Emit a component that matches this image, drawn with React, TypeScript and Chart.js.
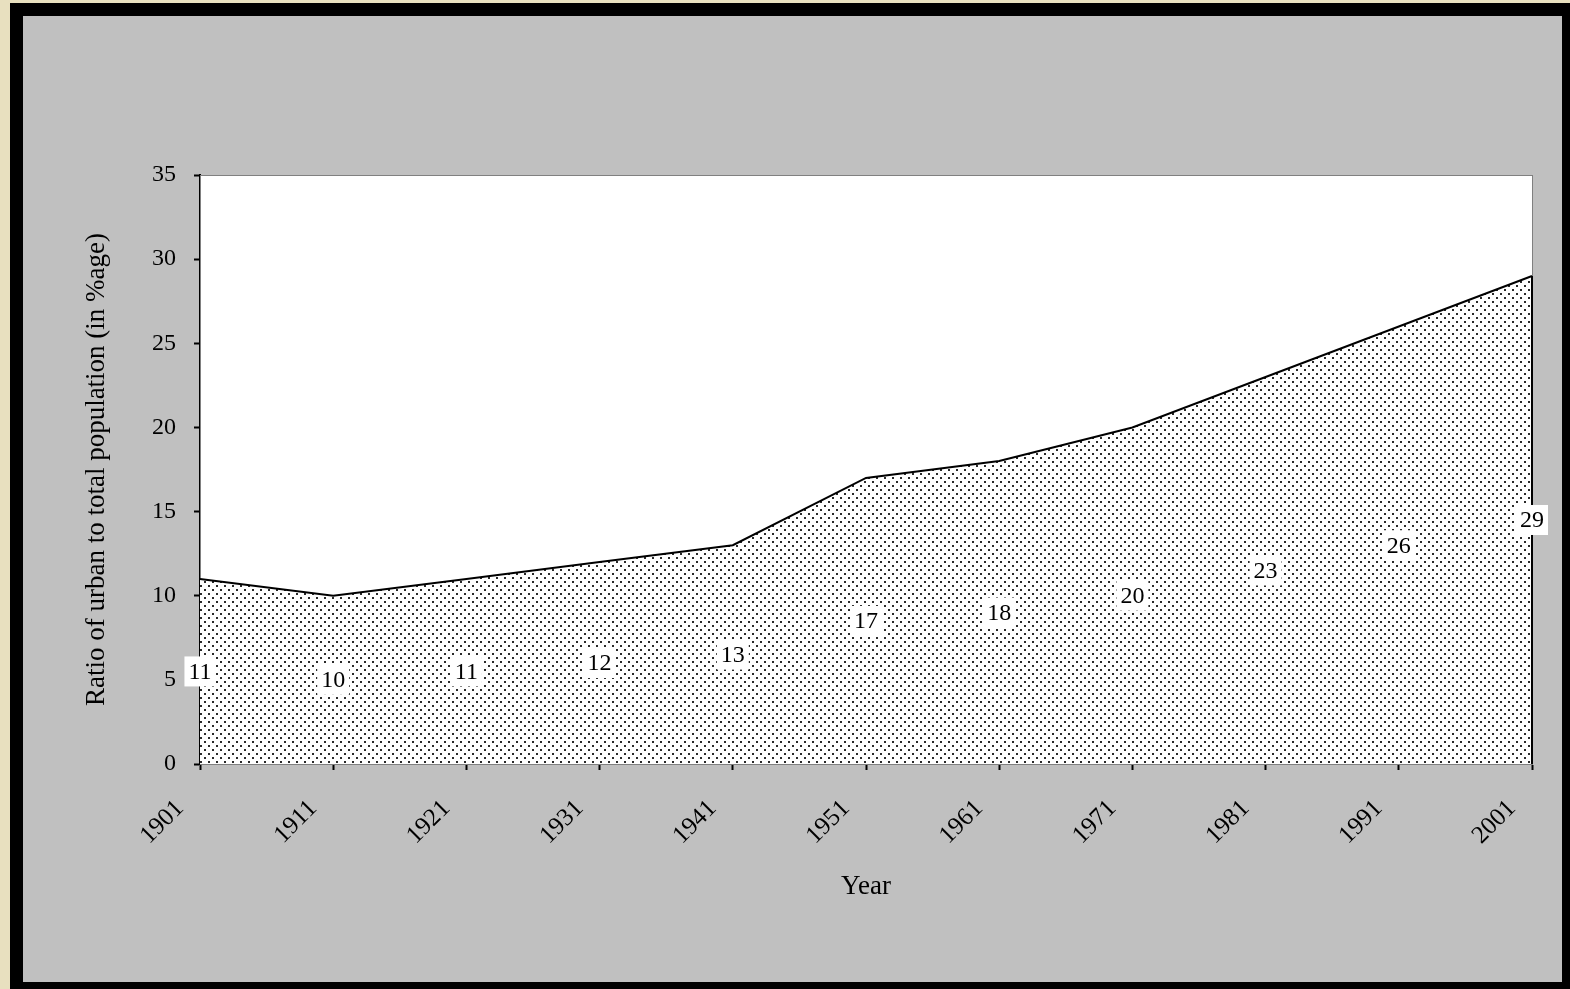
import React, { useEffect, useRef } from "react";
import { Chart, registerables } from "chart.js";

Chart.register(...registerables);

const years = ["1901", "1911", "1921", "1931", "1941", "1951", "1961", "1971", "1981", "1991", "2001"];
const urbanRatio = [11, 10, 11, 12, 13, 17, 18, 20, 23, 26, 29];
const yTitle = "Ratio of urban to total population (in %age)";
const xTitle = "Year";

const FONT = "'Liberation Serif', 'DejaVu Serif', serif";

function makeDotPattern(): CanvasPattern | string {
  const tile = document.createElement("canvas");
  tile.width = 8;
  tile.height = 8;
  const c = tile.getContext("2d");
  if (!c) return "#ffffff";
  c.fillStyle = "#ffffff";
  c.fillRect(0, 0, 8, 8);
  c.fillStyle = "#2a2a2a";
  c.fillRect(1, 1, 2, 2);
  c.fillRect(5, 5, 2, 2);
  const p = c.createPattern(tile, "repeat");
  return p || "#ffffff";
}

const framePlugin = {
  id: "frameAndLabels",
  beforeDraw(chart: any) {
    const { ctx, chartArea } = chart;
    ctx.save();
    ctx.fillStyle = "#ffffff";
    ctx.fillRect(chartArea.left, chartArea.top, chartArea.right - chartArea.left, chartArea.bottom - chartArea.top);
    ctx.restore();
  },
  beforeDatasetsDraw(chart: any) {
    const { ctx, chartArea } = chart;
    ctx.save();
    ctx.strokeStyle = "#808080";
    ctx.lineWidth = 1;
    ctx.strokeRect(chartArea.left + 0.5, chartArea.top + 0.5, chartArea.right - chartArea.left, chartArea.bottom - chartArea.top);
    ctx.restore();
  },
  afterDatasetsDraw(chart: any) {
    const { ctx } = chart;
    const meta = chart.getDatasetMeta(0);
    const yScale = chart.scales.y;
    const data = chart.data.datasets[0].data as number[];
    const last = meta.data[meta.data.length - 1];
    ctx.save();
    ctx.strokeStyle = "#000000";
    ctx.lineWidth = 2;
    ctx.beginPath();
    ctx.moveTo(last.x, last.y);
    ctx.lineTo(last.x, yScale.getPixelForValue(0));
    ctx.stroke();
    ctx.font = `24px ${FONT}`;
    ctx.textAlign = "center";
    ctx.textBaseline = "middle";
    meta.data.forEach((pt: any, i: number) => {
      const v = data[i];
      const txt = String(v);
      const y = yScale.getPixelForValue(v / 2);
      const w = ctx.measureText(txt).width;
      ctx.fillStyle = "#ffffff";
      ctx.fillRect(pt.x - w / 2 - 4, y - 15, w + 8, 30);
      ctx.fillStyle = "#000000";
      ctx.fillText(txt, pt.x, y + 1);
    });
    ctx.restore();
  },
};

export default function App() {
  const ref = useRef<HTMLCanvasElement>(null);

  useEffect(() => {
    if (!ref.current) return;
    const chart = new Chart(ref.current, {
      type: "line",
      data: {
        labels: years,
        datasets: [
          {
            data: urbanRatio,
            borderColor: "#000000",
            borderWidth: 2,
            backgroundColor: makeDotPattern() as any,
            fill: "origin",
            pointRadius: 0,
            tension: 0,
          },
        ],
      },
      options: {
        animation: false,
        responsive: false,
        maintainAspectRatio: false,
        layout: { padding: { top: 159, right: 30, left: 0, bottom: 0 } },
        plugins: { legend: { display: false }, tooltip: { enabled: false } },
        scales: {
          x: {
            offset: false,
            grid: { display: true, drawOnChartArea: false, drawTicks: true, tickLength: 6, tickColor: "#000000", tickWidth: 2 },
            border: { display: true, color: "#000000", width: 2 },
            ticks: {
              color: "#000000",
              font: { family: FONT, size: 25 },
              minRotation: 45,
              maxRotation: 45,
              padding: 24,
              labelOffset: -20,
              autoSkip: false,
            },
            title: {
              display: true,
              text: xTitle,
              color: "#000000",
              font: { family: FONT, size: 27, lineHeight: 1.2 },
              padding: { top: 0, bottom: 79 },
            },
            afterFit(scale: any) {
              scale.height = 218;
              scale.paddingLeft = 0;
              scale.paddingRight = 0;
            },
          },
          y: {
            min: 0,
            max: 35,
            grid: { display: true, drawOnChartArea: false, drawTicks: true, tickLength: 6, tickColor: "#000000", tickWidth: 2 },
            border: { display: true, color: "#000000", width: 2 },
            ticks: {
              stepSize: 5,
              color: "#000000",
              font: { family: FONT, size: 24 },
              padding: 18,
            },
            title: {
              display: true,
              text: yTitle,
              color: "#000000",
              font: { family: FONT, size: 27, lineHeight: 1.2 },
              padding: { top: 58, bottom: 0 },
            },
            afterFit(scale: any) {
              scale.width = 177;
              scale.paddingTop = 0;
              scale.paddingBottom = 0;
            },
          },
        },
      },
      plugins: [framePlugin],
    });
    return () => chart.destroy();
  }, []);

  return (
    <div style={{ position: "fixed", left: 0, top: 0, width: 1570, height: 989, background: "#e8e0bf", overflow: "hidden" }}>
      <div style={{ position: "absolute", left: 10, top: 3, width: 1560, height: 986, background: "#000000" }} />
      <div style={{ position: "absolute", left: 23, top: 16, width: 1539, height: 966, background: "#c0c0c0" }}>
        <canvas ref={ref} width={1539} height={966} style={{ display: "block", width: 1539, height: 966 }} />
      </div>
    </div>
  );
}
